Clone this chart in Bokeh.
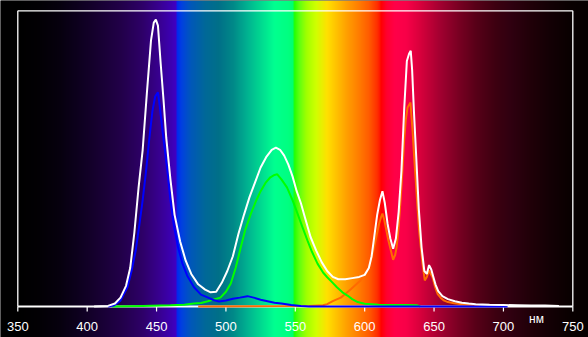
import numpy as np
from bokeh.plotting import figure
from bokeh.models import Range1d
from bokeh.core.properties import value
from bokeh.embed import file_html
from bokeh.resources import INLINE

# ---------------- data ----------------
tick_values = [350, 400, 450, 500, 550, 600, 650, 700, 750]
tick_labels = ["350", "400", "450", "500", "550", "600", "650", "700", "750"]
unit_label = "нм"

white_nm = [405, 415, 420, 424, 428, 431, 434, 437, 440, 443, 446, 448, 449.5, 451, 453, 455, 457, 460,
            463, 467, 471, 475, 480, 485, 489, 493, 497, 501, 505, 509, 513, 517, 521, 525, 529, 533,
            536, 539, 542, 545, 548, 551, 554, 557, 561, 565, 569, 573, 577, 581, 586, 591, 596, 600,
            603, 605, 607, 609, 611, 612.8, 614.5, 616.5, 618.5, 620.5, 622.5, 624.5, 626.5, 628.5,
            630.4, 632, 633.2, 634.2, 635.5, 637, 639, 641, 643, 644.8, 646.4, 648, 649.5, 651, 653,
            656, 660, 665, 670, 675, 680, 690, 700, 710, 720, 730, 740]
white_val = [0.0, 0.002, 0.01, 0.03, 0.07, 0.13, 0.25, 0.40, 0.53, 0.72, 0.90, 0.96, 0.97, 0.95, 0.82,
             0.70, 0.57, 0.43, 0.31, 0.22, 0.155, 0.11, 0.075, 0.057, 0.048, 0.05, 0.08, 0.12, 0.17,
             0.245, 0.31, 0.37, 0.42, 0.47, 0.505, 0.53, 0.537, 0.53, 0.51, 0.48, 0.44, 0.39, 0.35,
             0.30, 0.235, 0.19, 0.15, 0.12, 0.10, 0.092, 0.092, 0.096, 0.10, 0.107, 0.13, 0.17, 0.24,
             0.31, 0.36, 0.39, 0.35, 0.28, 0.23, 0.195, 0.23, 0.32, 0.46, 0.67, 0.83, 0.855, 0.865,
             0.80, 0.66, 0.52, 0.33, 0.20, 0.12, 0.11, 0.14, 0.125, 0.10, 0.075, 0.052, 0.035, 0.025,
             0.018, 0.013, 0.01, 0.008, 0.006, 0.005, 0.004, 0.003, 0.003, 0.002]

blue_nm = [415, 419, 424, 429, 432, 435, 438, 440, 442.5, 444.6, 447, 449, 451, 452.5, 454, 456, 458,
           460, 462.7, 465.5, 468.7, 472, 477, 482, 486.7, 491, 495, 500, 505, 510, 515.5, 520, 525,
           530, 535, 540, 547, 554, 560, 600, 650, 703]
blue_val = [0.0, 0.003, 0.02, 0.065, 0.12, 0.19, 0.29, 0.36, 0.46, 0.56, 0.66, 0.71, 0.724, 0.67, 0.606,
            0.53, 0.45, 0.36, 0.268, 0.2, 0.145, 0.105, 0.065, 0.04, 0.031, 0.022, 0.017, 0.02, 0.026,
            0.03, 0.035, 0.03, 0.023, 0.018, 0.013, 0.01, 0.005, 0.002, 0.0, 0.0, 0.0, 0.0]

green_nm = [418, 440, 460, 470, 477, 482, 487, 492, 496, 500, 503.5, 507, 510.7, 514, 518, 521.5, 525,
            528.5, 532, 535, 537, 540, 544, 548, 551.6, 555, 558.8, 562, 566, 570, 573, 577, 580, 584,
            587.6, 591, 595, 600, 610, 620, 630, 638, 640]
green_val = [0.0, 0.002, 0.004, 0.006, 0.01, 0.012, 0.018, 0.025, 0.03, 0.05, 0.078, 0.13, 0.2, 0.26,
             0.314, 0.355, 0.39, 0.418, 0.437, 0.445, 0.447, 0.43, 0.403, 0.36, 0.314, 0.27, 0.223,
             0.185, 0.145, 0.115, 0.099, 0.08, 0.065, 0.048, 0.037, 0.025, 0.015, 0.009, 0.006, 0.005,
             0.005, 0.004, 0.0]

red_nm = [480, 520, 560, 570, 573, 577, 582.8, 586, 590, 594, 597, 600, 603, 605, 606.8, 608.6, 610.4,
          612, 612.8, 614, 615.2, 617, 618.3, 620.5, 622, 623, 624.5, 626, 627.2, 628.4, 629.6, 630.9,
          633, 634.5, 635.6, 636.8, 638, 639.2, 641.7, 643.3, 644.8, 646.4, 647.6, 648.9, 650.5, 652.5,
          655, 657.3, 660, 664.5, 670, 675, 681, 682]
red_val = [0.0, 0.001, 0.002, 0.004, 0.008, 0.018, 0.03, 0.042, 0.058, 0.075, 0.088, 0.105, 0.133, 0.165,
           0.2, 0.24, 0.28, 0.305, 0.314, 0.295, 0.268, 0.225, 0.2, 0.158, 0.175, 0.2, 0.27, 0.37, 0.46,
           0.56, 0.63, 0.673, 0.69, 0.595, 0.51, 0.426, 0.34, 0.257, 0.145, 0.088, 0.1, 0.122, 0.11,
           0.099, 0.07, 0.043, 0.028, 0.02, 0.015, 0.011, 0.008, 0.006, 0.004, 0.0]

# spectrum background key colours (wavelength, colour)
spec_nm = [330, 350, 365, 380, 395, 410, 425, 440, 452, 460, 464.3, 464.8, 468, 475, 485, 495, 505, 515,
           525, 535, 545, 548.5, 549.2, 553, 558, 565, 573, 580, 587, 595, 603, 609, 611.3, 611.8, 616,
           622, 630, 640, 655, 668, 680, 695, 705, 720, 735, 750, 770]
spec_col = ["#000000", "#000000", "#020004", "#06000e", "#0e0020", "#180034", "#22004a", "#2e0068",
            "#380090", "#3c00b0", "#4000c4", "#0028f0", "#0040e0", "#0058b8", "#006898", "#007088",
            "#008888", "#00b090", "#00d890", "#00ff90", "#00ff80", "#00ff70", "#20ff00", "#60ff10",
            "#a0ff00", "#d0ff00", "#ffe000", "#ffc000", "#ffa000", "#ff8000", "#ff5c00", "#ff3000",
            "#ff1000", "#ff0000", "#ff0030", "#ff0048", "#f80048", "#d8003c", "#a00030", "#780022",
            "#580018", "#3c0010", "#300010", "#200008", "#120004", "#080000", "#040000"]

# ---------------- layout ----------------
W, H = 588, 337
X0, X1 = 337.53, 761.31
Y0, Y1 = -0.10484, 1.03483
px_y = (Y1 - Y0) / H  # data units per pixel (vertical)

p = figure(width=W, height=H, x_range=Range1d(X0, X1), y_range=Range1d(Y0, Y1),
           x_axis_type=None, y_axis_type=None, toolbar_location=None,
           output_backend="svg", min_border=0)
p.outline_line_color = None
p.background_fill_color = "black"
p.border_fill_color = "black"

# spectrum gradient
ncol = W
xs = X0 + (np.arange(ncol) + 0.5) * (X1 - X0) / ncol
rgb = np.array([[int(c[1:3], 16), int(c[3:5], 16), int(c[5:7], 16)] for c in spec_col], dtype=float)
r = np.interp(xs, spec_nm, rgb[:, 0])
g = np.interp(xs, spec_nm, rgb[:, 1])
b = np.interp(xs, spec_nm, rgb[:, 2])
img = np.empty((1, ncol), dtype=np.uint32)
view = img.view(dtype=np.uint8).reshape((1, ncol, 4))
view[0, :, 0] = np.round(r).astype(np.uint8)
view[0, :, 1] = np.round(g).astype(np.uint8)
view[0, :, 2] = np.round(b).astype(np.uint8)
view[0, :, 3] = 255
p.image_rgba(image=[img], x=X0, y=Y0, dw=X1 - X0, dh=Y1 - Y0)

# frame
xmin, xmax = tick_values[0], tick_values[-1]
p.segment(x0=[xmin, xmin, xmax], y0=[0, 1, 0], x1=[xmin, xmax, xmax], y1=[1, 1, 1],
          line_color="white", line_width=1.3)
p.segment(x0=[xmin], y0=[0], x1=[xmax], y1=[0], line_color="white", line_width=2)

# ticks
p.segment(x0=tick_values, y0=[0] * len(tick_values), x1=tick_values,
          y1=[-5 * px_y] * len(tick_values), line_color="white", line_width=1.2)

# tick labels
p.text(x=tick_values, y=[-20 * px_y] * len(tick_values), text=tick_labels,
       text_align="center", text_baseline="middle", text_color="white",
       text_font=value("Liberation Sans"), text_font_size="13px")
p.text(x=[723.8], y=[-13 * px_y] * 1, text=[unit_label], text_align="center",
       text_baseline="middle", text_color="white",
       text_font=value("Liberation Sans"), text_font_size="12px")

# spectra
p.line(red_nm, red_val, line_color="#ff6a00", line_width=2)
p.line(green_nm, green_val, line_color="#00ff00", line_width=2)
p.line(blue_nm, blue_val, line_color="#0000ff", line_width=2)
p.line(white_nm, white_val, line_color="white", line_width=2)

open("out.html", "w").write(file_html(p, INLINE))
